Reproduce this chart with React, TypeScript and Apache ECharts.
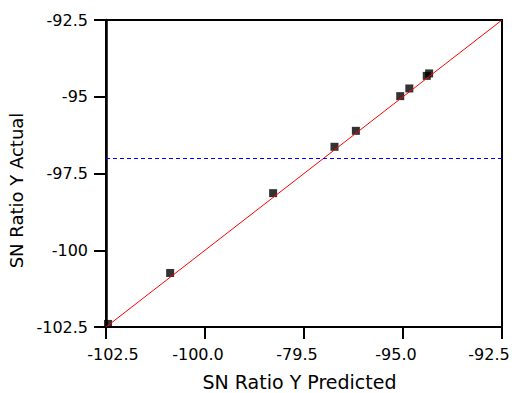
import React, { useEffect, useRef } from "react";
import * as echarts from "echarts";

const predicted = [-102.45, -100.88, -98.28, -96.73, -96.19, -95.07, -94.84, -94.4, -94.34];
const actual = [-102.4, -100.74, -98.14, -96.63, -96.11, -94.98, -94.73, -94.32, -94.24];
const fitLineX = [-102.5, -92.5];
const fitLineY = [-102.5, -92.5];
const meanLineY = -97.0;
const xTickLabels = ["-102.5", "-100.0", "-79.5", "-95.0", "-92.5"];
const yTickLabels = ["-102.5", "-100", "-97.5", "-95", "-92.5"];

const FONT = "'DejaVu Sans', 'Liberation Sans', Arial, sans-serif";

export default function App() {
  const ref = useRef<HTMLDivElement>(null);
  useEffect(() => {
    if (!ref.current) return;
    const chart = echarts.init(ref.current, undefined, { renderer: "svg" });
    const xMin = -102.5;
    const yMin = -102.5;
    const lastX = xTickLabels.length - 1;
    chart.setOption({
      animation: false,
      backgroundColor: "#ffffff",
      grid: {
        left: 106,
        right: 12,
        top: 20,
        bottom: 66,
        outerBoundsMode: "none",
        containLabel: false,
        show: true,
        borderColor: "#000",
        borderWidth: 2,
      },
      xAxis: {
        type: "value",
        min: -102.5,
        max: -92.5,
        interval: 2.5,
        name: "SN Ratio Y Predicted",
        nameLocation: "middle",
        nameGap: 45,
        nameTextStyle: { fontFamily: FONT, fontSize: 19, color: "#000", padding: [0, 9, 0, 0] },
        axisLine: { show: true, onZero: false, lineStyle: { color: "#000", width: 2 } },
        axisTick: { show: true, inside: false, length: 12, lineStyle: { color: "#000", width: 2 } },
        splitLine: { show: false },
        axisLabel: {
          fontFamily: FONT,
          fontSize: 16,
          color: "#000",
          margin: 19,
          formatter: (v: number) => {
            const i = Math.round((v - xMin) / 2.5);
            const t = xTickLabels[i] ?? "";
            if (i === 0) return `{f|${t}}`;
            if (i === lastX) return `{l|${t}}`;
            return `{s|${t}}`;
          },
          rich: {
            f: { fontFamily: FONT, fontSize: 16, color: "#000", padding: [0, 0, 0, 14] },
            s: { fontFamily: FONT, fontSize: 16, color: "#000", padding: [0, 14, 0, 0] },
            l: { fontFamily: FONT, fontSize: 16, color: "#000", padding: [0, 26, 0, 0] },
          },
        },
      },
      yAxis: {
        type: "value",
        min: -102.5,
        max: -92.5,
        interval: 2.5,
        name: "SN Ratio Y Actual",
        nameLocation: "middle",
        nameGap: 80,
        nameTextStyle: { fontFamily: FONT, fontSize: 18, color: "#000", padding: [0, 34, 0, 0] },
        axisLine: { show: true, onZero: false, lineStyle: { color: "#000", width: 2.5 } },
        axisTick: { show: true, inside: false, length: 12, lineStyle: { color: "#000", width: 2 } },
        splitLine: { show: false },
        axisLabel: {
          fontFamily: FONT,
          fontSize: 16,
          color: "#000",
          margin: 18,
          formatter: (v: number) => yTickLabels[Math.round((v - yMin) / 2.5)] ?? "",
        },
      },
      series: [
        {
          type: "line",
          data: fitLineX.map((x, i) => [x, fitLineY[i]]),
          symbol: "none",
          lineStyle: { color: "#ff0000", width: 1 },
          markLine: {
            silent: true,
            symbol: "none",
            label: { show: false },
            lineStyle: { color: "#0000ff", type: [4, 3], width: 1.2 },
            data: [{ yAxis: meanLineY }],
          },
        },
        {
          type: "scatter",
          data: predicted.map((x, i) => [x, actual[i]]),
          symbol: "rect",
          symbolSize: 8,
          itemStyle: { color: "#000" },
        },
      ],
    });
    return () => chart.dispose();
  }, []);
  return <div ref={ref} style={{ width: 514, height: 393, position: "absolute", left: 0, top: 0 }} />;
}
